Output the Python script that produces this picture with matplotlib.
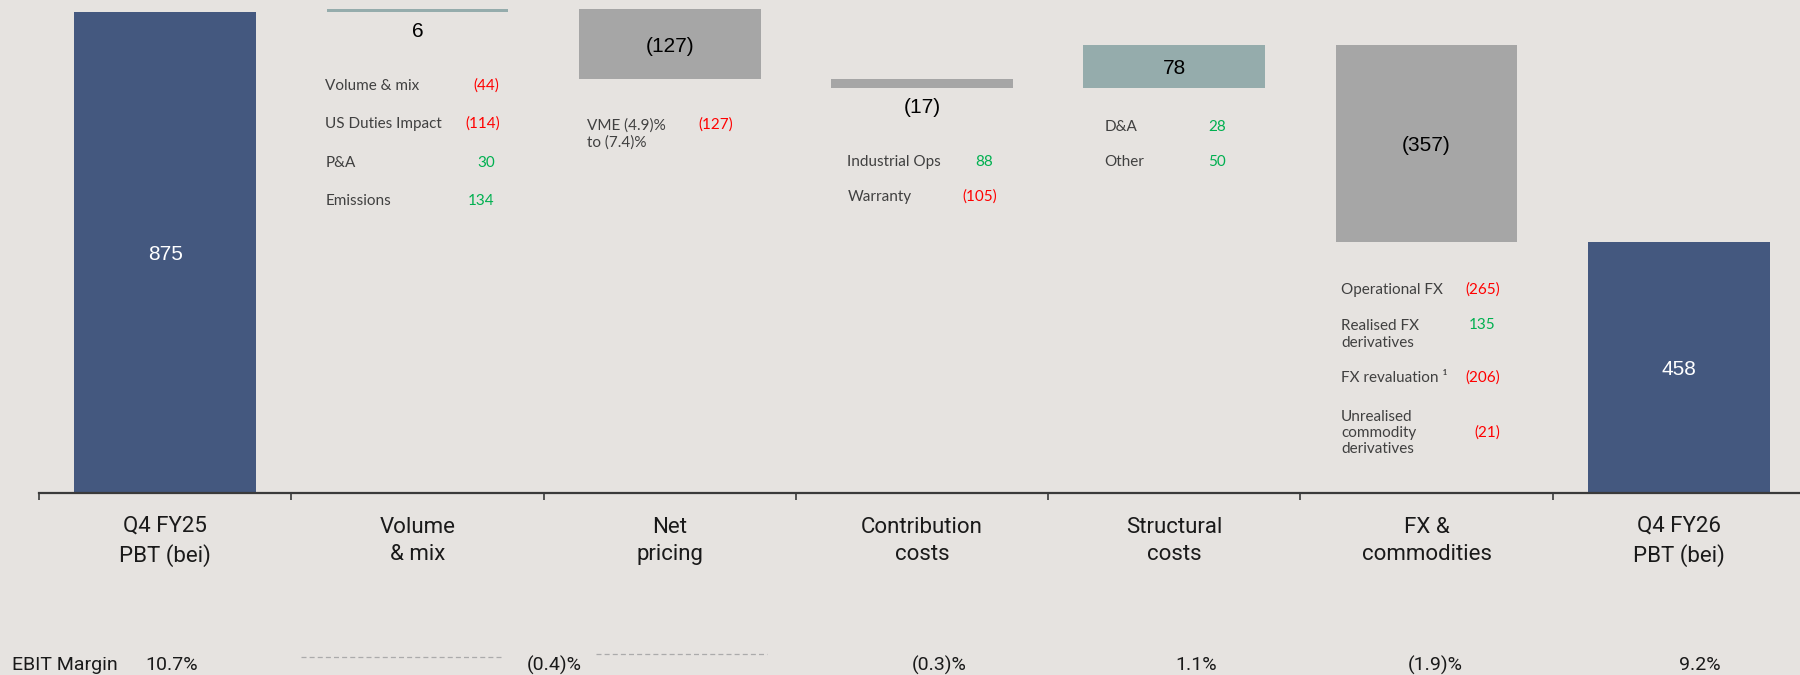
import matplotlib

matplotlib.use("Agg")
import matplotlib.pyplot as plt
import numpy as np
from matplotlib.transforms import blended_transform_factory

# ---- data ----------------------------------------------------------------
categories = [
    "Q4 FY25\nPBT (bei)",
    "Volume\n& mix",
    "Net\npricing",
    "Contribution\ncosts",
    "Structural\ncosts",
    "FX &\ncommodities",
    "Q4 FY26\nPBT (bei)",
]
values = [875, 6, -127, -17, 78, -357, 458]
is_total = [True, False, False, False, False, False, True]
value_labels = ["875", "6", "(127)", "(17)", "78", "(357)", "458"]

margin_labels = ["10.7%", "(0.4)%", "(0.3)%", "1.1%", "(1.9)%", "9.2%"]

vol_items = ["Volume & mix", "US Duties Impact", "P&A", "Emissions"]
vol_vals = [-44, -114, 30, 134]
price_items = ["VME (4.9)%\nto (7.4)%"]
price_vals = [-127]
contrib_items = ["Industrial Ops", "Warranty"]
contrib_vals = [88, -105]
struct_items = ["D&A", "Other"]
struct_vals = [28, 50]
fx_items = ["Operational FX", "Realised FX\nderivatives", "FX revaluation \u00b9", "Unrealised\ncommodity\nderivatives"]
fx_vals = [-265, 135, -206, -21]

# ---- palette -------------------------------------------------------------
BG = "#E6E3E0"
NAVY = "#44587F"
TEAL = "#95ACAC"
GREY = "#A6A6A6"
RED = "#FF0000"
GREEN = "#00B050"
INK = "#1A1A1A"
NOTE = "#404040"

W, H = 1800, 675


def fy(px):
    # pixel row (from top) -> figure fraction
    return 1 - px / H


fig = plt.figure(figsize=(W / 100, H / 100), dpi=100)
fig.patch.set_facecolor(BG)
ax = fig.add_axes([39 / W, 181.7 / H, 1766 / W, 493.3 / H])
ax.set_facecolor("none")
tr = blended_transform_factory(ax.transData, fig.transFigure)

# ---- waterfall -----------------------------------------------------------
bottoms, heights, colors = [], [], []
running = 0
for v, tot in zip(values, is_total):
    if tot:
        bottoms.append(0)
        heights.append(v)
        colors.append(NAVY)
        running = v
    else:
        bottoms.append(running if v > 0 else running + v)
        heights.append(abs(v))
        colors.append(TEAL if v > 0 else GREY)
        running += v

x = np.arange(len(categories))
ax.bar(x, heights, bottom=bottoms, width=0.72, color=colors, zorder=2)

VAL_FAM = ["Liberation Sans", "DejaVu Sans"]
for i, (b, h, lab, tot) in enumerate(zip(bottoms, heights, value_labels, is_total)):
    if h >= 50:
        ax.annotate(lab, xy=(i, b + h / 2), xytext=(0, -1.5), textcoords="offset points",
                    ha="center", va="center", fontsize=15, family=VAL_FAM,
                    color="white" if tot else "black", zorder=3)
    else:
        ax.annotate(lab, xy=(i, b), xytext=(0, -14), textcoords="offset points",
                    ha="center", va="center", fontsize=15, family=VAL_FAM, color="black")

ax.set_xlim(-0.5, 6.5)
ax.set_ylim(0, 897.4)
for s in ("top", "right", "left"):
    ax.spines[s].set_visible(False)
ax.spines["bottom"].set_linewidth(1.6)
ax.spines["bottom"].set_color("#3A3A3A")
ax.set_yticks([])
ax.set_xticks(x)
ax.set_xticklabels([])
ax.tick_params(axis="x", which="major", length=0)
ax.set_xticks(np.arange(-0.5, 7, 1), minor=True)
ax.tick_params(axis="x", which="minor", length=5, width=1.2, color="#3A3A3A", direction="out")

for i, cat in enumerate(categories):
    ax.text(i, fy(541), cat, transform=tr, ha="center", va="center", fontsize=16,
            family=["Roboto", "DejaVu Sans"], color=INK, linespacing=1.4)

# ---- breakdown notes -----------------------------------------------------
NOTE_FAM = ["Lato", "DejaVu Sans"]


def breakdown(cat, items, vals, label_rows, value_rows, x_label, x_value):
    for item, v, ly, vy in zip(items, vals, label_rows, value_rows):
        ax.text(cat + x_label, fy(ly + 2), item, transform=tr, ha="left", va="center",
                fontsize=11, family=NOTE_FAM, color=NOTE)
        neg = v < 0
        ax.annotate(f"({abs(v)})" if neg else f"{v}", xy=(cat + x_value, fy(vy + 2)), xycoords=tr,
                    xytext=(0 if neg else -3.5, 0), textcoords="offset points",
                    ha="right", va="center", fontsize=11, family=NOTE_FAM,
                    color=RED if neg else GREEN)


breakdown(1, vol_items, vol_vals, [84, 122, 161, 199], [84, 122, 161, 199], -0.365, 0.326)
breakdown(2, price_items, price_vals, [132], [122.7], -0.328, 0.251)
breakdown(3, contrib_items, contrib_vals, [160, 195], [160, 195], -0.296, 0.299)
breakdown(4, struct_items, struct_vals, [125, 160], [125, 160], -0.276, 0.224)
breakdown(5, fx_items, fx_vals, [288, 332.5, 376, 431], [288, 323, 376, 431], -0.339, 0.292)

# ---- EBIT margin row -----------------------------------------------------
ROW_FAM = ["Roboto", "DejaVu Sans"]
fig.text(11.7 / W, fy(665), "EBIT Margin", ha="left", va="center", fontsize=14,
         family=ROW_FAM, color=INK)
margin_x = [0.025, 1.543, 3.067, 4.086, 5.033, 6.084]
for mx, lab in zip(margin_x, margin_labels):
    ax.text(mx, fy(665), lab, transform=tr, ha="center", va="center", fontsize=14,
            family=ROW_FAM, color=INK)

ax.plot([0.538, 1.339], [fy(657)] * 2, transform=tr, ls=(0, (4, 2.5)), lw=0.9,
        color="#ABABAB", clip_on=False)
ax.plot([1.708, 2.385], [fy(654)] * 2, transform=tr, ls=(0, (4, 2.5)), lw=0.9,
        color="#ABABAB", clip_on=False)

fig.savefig("out.png", dpi=100, facecolor=BG)
